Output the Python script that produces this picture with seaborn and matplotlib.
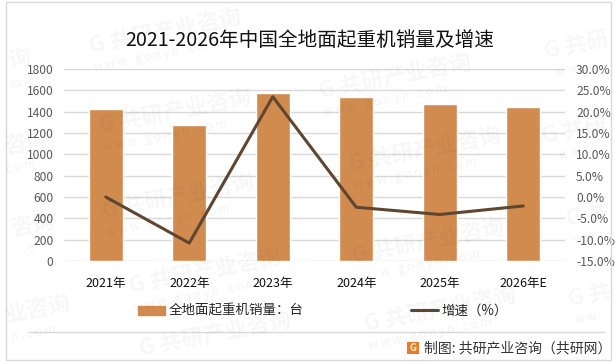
#! /usr/bin/env python
"""
2021-2026 China ground crane sales and growth rate
"""

import pandas as pd
import seaborn as sns
import matplotlib.pyplot as plt
from matplotlib.lines import Line2D
from matplotlib.patches import Patch, Rectangle

YEARS = ["2021年", "2022年", "2023年", "2024年", "2025年", "2026年E"]
SALES = [1425, 1275, 1575, 1537, 1472, 1444]
GROWTH = [0.0, -10.8, 23.5, -2.4, -4.1, -2.1]

SALES_TICKS = [0, 200, 400, 600, 800, 1000, 1200, 1400, 1600, 1800]
GROWTH_TICKS = [-15, -10, -5, 0, 5, 10, 15, 20, 25, 30]

TITLE = "2021-2026年中国全地面起重机销量及增速"
SALES_LABEL = "全地面起重机销量：台"
GROWTH_LABEL = "增速（%）"
SOURCE = "制图: 共研产业咨询（共研网）"
WATERMARK = "G 共研产业咨询"
WATERMARK_URL = "w w w . g o n y n . c o m"

BAR_COLOR = "#D18B4F"
LINE_COLOR = "#5F4630"
GRID_COLOR = "#D9D9D9"
TICK_COLOR = "#595959"

WIDTH, HEIGHT = 615, 364

# pixel centres of the repeated watermark
WATERMARK_SPOTS = [
    (165, 32), (175, 112), (395, 77), (425, 150), (178, 197),
    (205, 272), (428, 242), (440, 310),
]
# the pieces that run off the picture in the reference
WATERMARK_PIECES = [
    (20, 60, "询", "m"), (25, 143, "咨询", "c o m"), (32, 225, "咨询", ". c"),
    (38, 309, "业咨询", "n . c o m"), (576, 45, "G 共研", "w w w"),
    (574, 130, "G 共研", "w w"), (588, 215, "G 共", "w w"), (590, 295, "G 共", "w w"),
    (215, 335, "G 共研产业咨询", ""),
]


def px(x: float, y: float) -> tuple[float, float]:
    return x / WIDTH, 1 - y / HEIGHT


def add_watermarks(fig) -> None:
    style = {"color": "#000000", "rotation": 11, "ha": "center", "va": "center", "zorder": 10}
    for x, y in WATERMARK_SPOTS:
        fig.text(*px(x, y), WATERMARK, fontsize=16, fontweight="bold", alpha=0.035, **style)
        fig.text(*px(x - 10, y + 24), WATERMARK_URL, fontsize=8.5, alpha=0.05, **style)
    for x, y, word, url in WATERMARK_PIECES:
        fig.text(*px(x, y), word, fontsize=16, fontweight="bold", alpha=0.035, **style)
        if url:
            fig.text(*px(x - 4, y + 24), url, fontsize=8.5, alpha=0.05, **style)


def run() -> None:
    sns.set_theme(style="white")
    plt.rcParams["font.family"] = ["Noto Sans CJK SC", "DejaVu Sans"]

    df = pd.DataFrame({"Year": YEARS, "Sales": SALES, "Growth": GROWTH})

    fig = plt.figure(figsize=(WIDTH / 100, HEIGHT / 100), dpi=100)
    ax = fig.add_axes([64 / WIDTH, 1 - 261 / HEIGHT, 501 / WIDTH, 192 / HEIGHT])

    sns.barplot(data=df, x="Year", y="Sales", color=BAR_COLOR, width=0.405,
                saturation=1, ax=ax, zorder=2)
    ax.set_ylim(0, 1800)
    ax.set_yticks(SALES_TICKS)
    ax.set_xlim(-0.5, 5.5)
    ax.set_xlabel("")
    ax.set_ylabel("")
    ax.grid(axis="y", color=GRID_COLOR, linewidth=1)
    ax.set_axisbelow(True)
    ax.tick_params(axis="y", length=0, labelsize=8.7, labelcolor=TICK_COLOR, pad=7.5)
    ax.tick_params(axis="x", length=0, labelsize=9, labelcolor="#111111", pad=11.5)

    ax2 = ax.twinx()
    sns.lineplot(data=df, x="Year", y="Growth", color=LINE_COLOR, linewidth=2.2,
                 sort=False, ax=ax2, legend=False)
    ax2.set_ylim(-15, 30)
    ax2.set_yticks(GROWTH_TICKS)
    ax2.set_yticklabels([f"{t:.1f}%" for t in GROWTH_TICKS])
    ax2.set_ylabel("")
    ax2.tick_params(axis="y", length=0, labelsize=8.7, labelcolor=TICK_COLOR, pad=8)

    for spine in list(ax.spines.values()) + list(ax2.spines.values()):
        spine.set_visible(False)

    fig.text(*px(309.5, 40), TITLE, fontsize=14.1, color="#111111", ha="center", va="center")

    handles = [Patch(color=BAR_COLOR), Line2D([0], [0], color=LINE_COLOR, linewidth=2.2)]
    fig.legend(handles, [SALES_LABEL, GROWTH_LABEL], ncol=2, frameon=False, fontsize=9.7,
               loc="center", bbox_to_anchor=px(323, 311),
               handlelength=2.0, handleheight=0.6, handletextpad=0.25, columnspacing=8.0)

    # outer frame and footer separator
    fig.add_artist(Rectangle(px(6, 360), 605 / WIDTH, 358 / HEIGHT,
                             transform=fig.transFigure, fill=False, edgecolor=GRID_COLOR,
                             linewidth=1))
    x0, y0 = px(29, 332)
    x1, _ = px(604, 332)
    fig.add_artist(Line2D([x0, x1], [y0, y0], color=GRID_COLOR, linewidth=1))

    # small logo and source credit
    fig.add_artist(Rectangle(px(407, 354), 12 / WIDTH, 12 / HEIGHT,
                             transform=fig.transFigure, color="#EE7B22", linewidth=0))
    fig.text(*px(413, 348), "G", fontsize=7, fontweight="bold", color="white",
             ha="center", va="center")
    fig.text(*px(424, 348), SOURCE, fontsize=10, color="#333333", ha="left", va="center")

    add_watermarks(fig)

    fig.savefig("out.png", dpi=100)


if __name__ == "__main__":
    run()
